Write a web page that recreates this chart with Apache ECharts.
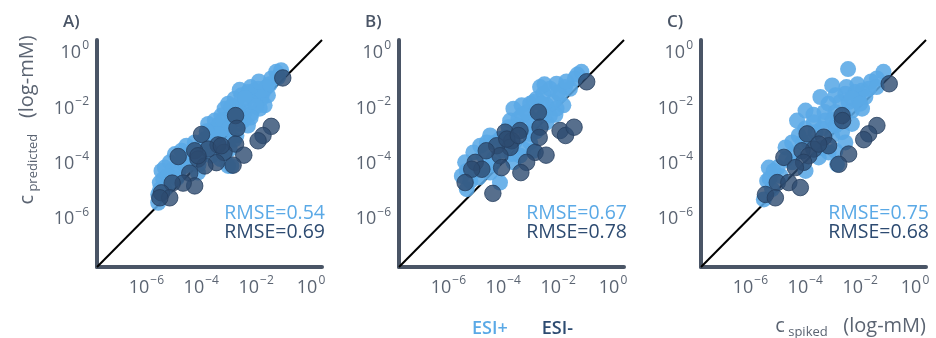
<!DOCTYPE html>
<html>
<head>
<meta charset="utf-8">
<script src="https://cdn.jsdelivr.net/npm/echarts@6/dist/echarts.min.js"></script>
<style>
  html, body { margin: 0; padding: 0; background: #fff; }
  #chart { width: 936px; height: 338px; }
</style>
</head>
<body>
<div id="chart"></div>
<script>
// All concentrations are log10(mM): [spiked, predicted]
const panelTitles = ['A)', 'B)', 'C)'];
const tickValues = [-6, -4, -2, 0];
const axisRange = [-7.8, 0.4];

const esiPosA = [
  [-1.27,-0.75],[-1.09,-0.69],[-1.45,-0.99],[-1.62,-1.31],[-1.63,-1.30],[-1.57,-1.60],[-2.06,-1.42],[-2.30,-1.48],
  [-2.54,-1.60],[-2.78,-1.72],[-3.02,-1.90],[-3.15,-2.08],[-2.42,-1.84],[-2.06,-1.84],[-1.81,-1.72],
  [-1.87,-2.08],[-2.18,-2.27],[-2.42,-2.21],[-2.66,-2.08],[-2.90,-2.27],[-2.30,-2.69],[-2.48,-2.51],
  [-3.27,-2.33],[-3.51,-2.51],[-3.75,-2.63],[-3.63,-2.93],[-3.27,-2.81],[-3.15,-3.11],[-3.87,-3.18],
  [-4.24,-3.30],[-4.54,-3.42],[-4.72,-3.60],[-4.96,-3.72],[-5.15,-4.02],[-5.33,-4.21],[-5.45,-4.33],
  [-5.39,-4.63],[-5.51,-4.75],[-5.57,-5.18],[-5.57,-5.48],[-5.33,-4.99],[-4.84,-4.39],[-4.60,-4.15],
  [-4.36,-4.02],[-4.12,-4.39],[-3.99,-3.78],[-3.02,-4.15],[-2.90,-4.15],[-3.15,-3.78],[-2.96,-3.54],
  [-2.72,-3.05],[-3.63,-3.78],[-4.48,-3.78],[-5.02,-4.27],[-5.21,-4.51],[-3.51,-3.18],[-2.90,-2.57],
  [-3.39,-2.69],[-2.66,-2.63],[-2.18,-1.60],[-1.93,-1.36],[-1.75,-1.48],[-1.69,-1.96],
  [-2.60,-1.40],[-2.20,-1.30],[-1.90,-1.10],[-2.40,-1.70],[-2.00,-2.00],[-2.60,-2.40],[-2.90,-2.00],
  [-3.20,-2.50],[-3.00,-2.80],[-3.40,-3.00],[-3.80,-2.90],[-4.00,-3.40],[-3.70,-3.50],[-4.30,-3.60],
  [-4.70,-4.00],[-4.90,-4.60],[-5.20,-4.80],[-3.30,-3.90],[-2.80,-3.20],[-1.50,-1.20],[-1.20,-0.95],
  [-2.20,-2.40],[-4.10,-4.10],[-5.50,-5.00]
];
const esiNegA = [
  [-1.03,-0.97],[-2.75,-2.33],[-2.70,-2.79],[-1.45,-2.72],[-1.75,-3.05],[-1.93,-3.24],[-3.99,-3.01],
  [-2.75,-3.36],[-2.45,-3.76],[-2.84,-4.12],[-3.39,-3.39],[-3.17,-3.66],[-3.45,-4.03],[-3.75,-3.54],
  [-4.24,-3.60],[-4.12,-3.90],[-4.84,-3.81],[-3.87,-4.15],[-4.42,-4.41],[-4.24,-4.87],[-4.66,-4.77],
  [-5.06,-4.77],[-5.45,-5.12],[-5.15,-5.30],[-5.51,-5.30],[-3.27,-3.42],[-4.12,-3.78]
];

const esiPosB = [
  [-1.15,-0.75],[-1.39,-0.99],[-1.57,-1.36],[-2.06,-1.18],[-2.30,-1.36],[-2.54,-1.54],[-2.78,-1.72],
  [-3.02,-1.90],[-1.93,-1.60],[-1.81,-1.96],[-2.18,-1.84],[-2.42,-1.96],[-2.30,-2.33],[-2.42,-2.57],
  [-3.15,-2.21],[-3.63,-2.08],[-3.45,-2.45],[-3.09,-2.57],[-3.75,-2.51],[-3.81,-2.75],[-3.15,-2.93],
  [-3.02,-3.30],[-3.27,-3.54],[-3.39,-3.78],[-4.48,-3.05],[-4.60,-3.30],[-4.84,-3.42],[-5.09,-3.66],
  [-5.39,-4.02],[-5.33,-4.33],[-5.51,-4.51],[-5.33,-4.99],[-4.90,-4.57],[-4.48,-4.39],[-4.12,-4.75],
  [-4.36,-3.90],[-3.63,-4.02],[-3.69,-3.72],[-2.90,-1.84],[-2.66,-2.21],[-2.06,-2.08],[-1.75,-1.30],
  [-2.66,-1.30],[-3.33,-1.96],[-4.12,-3.18],[-4.72,-3.78],
  [-2.50,-1.20],[-2.00,-1.50],[-1.70,-1.10],[-2.60,-1.90],[-2.10,-2.30],[-2.50,-2.30],[-2.90,-2.50],
  [-3.30,-2.30],[-3.50,-2.70],[-2.80,-2.90],[-3.90,-3.10],[-4.30,-3.30],[-4.00,-3.60],[-4.40,-4.10],
  [-4.70,-4.20],[-5.00,-4.30],[-5.20,-4.70],[-3.60,-3.30],[-1.30,-0.85],[-3.00,-3.00],[-2.90,-3.60]
];
const esiNegB = [
  [-0.96,-1.11],[-2.72,-2.21],[-2.66,-2.75],[-2.69,-3.12],[-2.84,-3.66],[-2.44,-3.76],[-1.93,-2.87],
  [-1.73,-3.05],[-1.42,-2.75],[-3.93,-2.93],[-3.39,-2.87],[-3.69,-3.24],[-3.75,-3.48],[-4.24,-3.42],
  [-4.12,-3.78],[-4.06,-4.21],[-3.15,-4.02],[-3.36,-4.39],[-4.62,-3.60],[-5.02,-4.02],[-4.78,-4.27],
  [-5.15,-4.27],[-5.39,-4.75],[-4.38,-5.14],[-3.87,-3.18],[-3.45,-3.05]
];

const esiPosC = [
  [-2.44,-0.65],[-1.15,-0.75],[-1.39,-0.99],[-1.69,-1.36],[-1.93,-1.42],[-2.18,-1.48],[-2.54,-1.54],
  [-3.02,-1.24],[-3.45,-1.66],[-3.15,-1.90],[-2.72,-1.84],[-2.42,-1.84],[-2.06,-1.72],[-1.81,-1.66],
  [-2.30,-2.15],[-3.99,-2.15],[-4.30,-2.51],[-3.69,-2.57],[-3.27,-2.51],[-2.90,-2.69],[-2.30,-2.63],
  [-3.63,-2.93],[-4.24,-3.05],[-4.48,-3.30],[-4.72,-3.48],[-3.15,-3.66],[-3.51,-3.84],[-3.99,-4.33],
  [-2.84,-4.09],[-5.33,-4.21],[-5.15,-4.33],[-5.39,-4.69],[-4.90,-4.51],[-5.51,-5.36],[-5.21,-4.99],
  [-4.48,-4.02],[-3.87,-3.30],[-3.02,-3.05],[-2.66,-2.93],[-2.90,-2.21],[-1.93,-2.08],[-2.54,-3.30],
  [-2.50,-1.30],[-2.10,-1.20],[-1.60,-1.10],[-2.90,-1.60],[-2.30,-1.70],[-2.60,-2.30],[-3.30,-2.20],
  [-3.70,-2.30],[-3.40,-2.80],[-3.00,-2.50],[-2.00,-1.90],[-4.00,-2.80],[-4.10,-3.30],[-4.40,-3.70],
  [-4.70,-3.90],[-5.00,-4.20],[-3.40,-3.50],[-2.90,-3.60],[-5.30,-4.60],[-1.40,-1.30]
];
const esiNegC = [
  [-0.94,-1.18],[-2.66,-2.33],[-2.64,-2.51],[-1.39,-2.69],[-1.69,-2.99],[-1.87,-3.20],[-2.42,-3.72],
  [-2.78,-4.09],[-3.93,-2.99],[-3.33,-3.11],[-3.15,-3.42],[-3.69,-3.54],[-4.12,-3.60],[-3.87,-3.78],
  [-4.06,-4.02],[-4.78,-3.84],[-4.36,-4.21],[-5.02,-4.75],[-4.60,-4.75],[-4.18,-4.93],[-5.45,-5.18],
  [-5.09,-5.30],[-3.51,-3.36]
];

const rmsePos = ['0.54', '0.67', '0.75'];
const rmseNeg = ['0.69', '0.78', '0.68'];

const panels = [
  { pos: esiPosA, neg: esiNegA },
  { pos: esiPosB, neg: esiNegB },
  { pos: esiPosC, neg: esiNegC }
];

const LIGHT = '#5aa9e6';
const DARK = '#2d4b71';
const AXIS = '#4a5566';
const TEXT = '#5b6472';
const FONT = '"Open Sans", "Noto Sans", sans-serif';

const gridLefts = [97, 399, 701];
const gridTop = 40, gridW = 225, gridH = 227;

const supRich = {
  b: { fontSize: 18, color: TEXT, fontFamily: FONT, lineHeight: 22, verticalAlign: 'bottom' },
  s: { fontSize: 12, color: TEXT, fontFamily: FONT, lineHeight: 22, verticalAlign: 'top', padding: [0, 0, 0, 1] }
};
const powLabel = v => '{b|10}{s|' + (v < 0 ? '\u2212' + (-v) : v) + '}';

const grids = [], xAxes = [], yAxes = [], series = [], graphics = [];

panels.forEach((p, i) => {
  grids.push({ left: gridLefts[i], top: gridTop, width: gridW, height: gridH });
  const axisCommon = {
    type: 'value', gridIndex: i, min: axisRange[0], max: axisRange[1],
    splitLine: { show: false }, axisTick: { show: false },
    axisLine: { show: true, onZero: false, lineStyle: { color: AXIS, width: 4 } }
  };
  xAxes.push(Object.assign({}, axisCommon, {
    position: 'bottom',
    axisLabel: { customValues: tickValues, formatter: powLabel, rich: supRich, margin: 8 }
  }));
  yAxes.push(Object.assign({}, axisCommon, {
    position: 'left',
    axisLabel: { customValues: tickValues, formatter: powLabel, rich: supRich, margin: 8 }
  }));

  // identity line
  series.push({
    type: 'line', xAxisIndex: i, yAxisIndex: i, silent: true, symbol: 'none', z: 1,
    data: [[axisRange[0], axisRange[0]], [axisRange[1], axisRange[1]]],
    lineStyle: { color: '#000', width: 2 }
  });
  series.push({
    name: 'ESI+', type: 'scatter', xAxisIndex: i, yAxisIndex: i, data: p.pos, z: 2,
    symbolSize: 16,
    itemStyle: { color: LIGHT, opacity: 0.88 }
  });
  series.push({
    name: 'ESI-', type: 'scatter', xAxisIndex: i, yAxisIndex: i, data: p.neg, z: 3,
    symbolSize: 16.5,
    itemStyle: { color: DARK, opacity: 0.8, borderColor: '#263f5f', borderWidth: 1 }
  });

  const right = gridLefts[i] + gridW + 3;
  graphics.push({
    type: 'text', left: gridLefts[i] - 34, top: 14,
    style: { text: panelTitles[i], font: '600 17px ' + FONT, fill: AXIS }
  });
  graphics.push({
    type: 'text', x: right, y: 213,
    style: { text: 'RMSE=' + rmsePos[i], font: '19.5px ' + FONT, fill: LIGHT, align: 'right', verticalAlign: 'middle' }
  });
  graphics.push({
    type: 'text', x: right, y: 232,
    style: { text: 'RMSE=' + rmseNeg[i], font: '19.5px ' + FONT, fill: DARK, align: 'right', verticalAlign: 'middle' }
  });
});

const titleRich = {
  c: { fontSize: 20, fill: TEXT, fontFamily: FONT, lineHeight: 22, verticalAlign: 'bottom' },
  s: { fontSize: 13, fill: TEXT, fontFamily: FONT, lineHeight: 22, verticalAlign: 'bottom', padding: [0, 0, -3, 0] },
  n: { fontSize: 20, fill: TEXT, fontFamily: FONT, lineHeight: 22, verticalAlign: 'bottom' }
};
// y axis title (rotated)
graphics.push({
  type: 'text', x: 26, y: 120, rotation: Math.PI / 2,
  style: { text: '{c|c}{s| predicted}{n|   (log-mM)}', align: 'center', verticalAlign: 'middle', rich: titleRich }
});
// x axis title
graphics.push({
  type: 'text', x: 926, y: 325,
  style: { text: '{c|c}{s| spiked}{n|   (log-mM)}', align: 'right', verticalAlign: 'middle', rich: titleRich }
});

const chart = echarts.init(document.getElementById('chart'), null, { renderer: 'canvas' });
chart.setOption({
  animation: false,
  backgroundColor: '#fff',
  textStyle: { fontFamily: FONT },
  grid: grids,
  xAxis: xAxes,
  yAxis: yAxes,
  legend: {
    left: 462, top: 315, itemWidth: 0, itemHeight: 0, itemGap: 28,
    data: [
      { name: 'ESI+', textStyle: { color: LIGHT } },
      { name: 'ESI-', textStyle: { color: DARK } }
    ],
    textStyle: { fontSize: 18, fontWeight: 600, fontFamily: FONT }
  },
  series: series,
  graphic: graphics
});
</script>
</body>
</html>
